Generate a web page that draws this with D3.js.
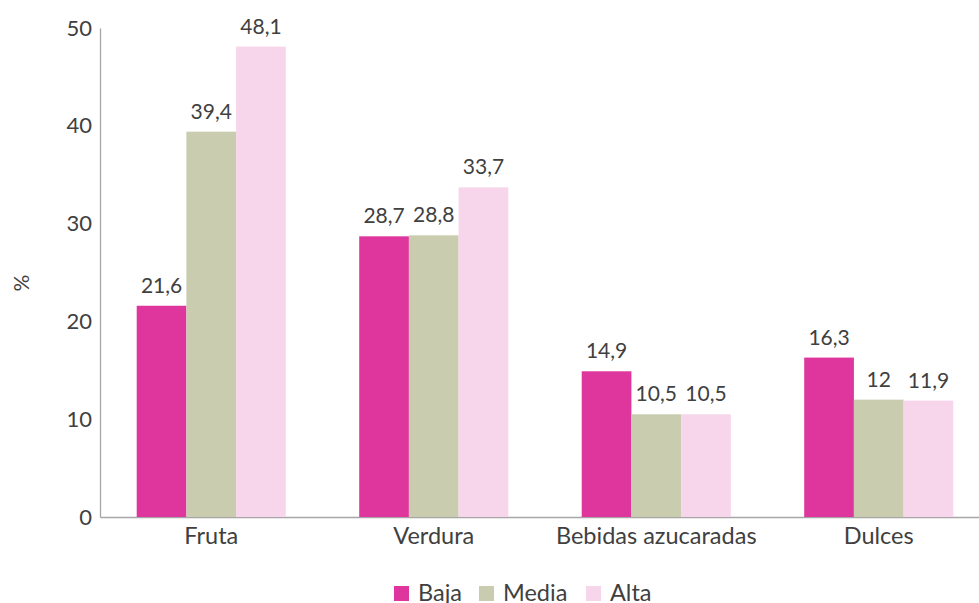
<!DOCTYPE html>
<html>
<head>
<meta charset="utf-8">
<script src="https://cdn.jsdelivr.net/npm/d3@7"></script>
<style>
	body { margin: 0; background: #fff; }
	text { font-family: Lato, 'Open Sans', sans-serif; fill: #404040; }
</style>
</head>
<body>
<svg id="chart" width="979" height="603"></svg>
<script>
var categories = [ 'Fruta', 'Verdura', 'Bebidas azucaradas', 'Dulces' ];
var seriesNames = [ 'Baja', 'Media', 'Alta' ];
var baja = [ 21.6, 28.7, 14.9, 16.3 ];
var media = [ 39.4, 28.8, 10.5, 12 ];
var alta = [ 48.1, 33.7, 10.5, 11.9 ];
var yTicks = [ 0, 10, 20, 30, 40, 50 ];
var colors = [ '#de369d', '#c9ccae', '#f7d5ea' ];

var values = [ baja, media, alta ];
var svg = d3.select( '#chart' );

// plot area
var plotLeft = 100, plotTop = 28, plotBottom = 517, plotRight = 990;

var x = d3.scaleBand()
	.domain( categories )
	.range( [ plotLeft, plotRight ] )
	.paddingInner( 0.33 )
	.paddingOuter( 0.165 );

var xs = d3.scaleBand()
	.domain( seriesNames )
	.range( [ 0, x.bandwidth() ] );

var y = d3.scaleLinear()
	.domain( [ 0, 50 ] )
	.range( [ plotBottom, plotTop ] );

// y axis
var yAxis = svg.append( 'g' )
	.attr( 'transform', 'translate(' + plotLeft + ',0)' )
	.call( d3.axisLeft( y ).tickValues( yTicks ).tickSize( 0 ).tickPadding( 8 ) );
yAxis.select( '.domain' ).attr( 'stroke', '#a6a6a6' ).attr( 'stroke-width', 1.3 );
yAxis.selectAll( 'text' ).style( 'font-size', '22px' ).attr( 'fill', '#404040' );

// x axis
var xAxis = svg.append( 'g' )
	.attr( 'transform', 'translate(0,' + plotBottom + ')' )
	.call( d3.axisBottom( x ).tickSize( 0 ).tickPadding( 10 ) );
xAxis.select( '.domain' ).attr( 'stroke', '#a6a6a6' ).attr( 'stroke-width', 1.3 );
xAxis.selectAll( 'text' ).style( 'font-size', '23.5px' ).attr( 'fill', '#404040' );

svg.append( 'text' )
	.attr( 'transform', 'translate(29,283) rotate(-90)' )
	.attr( 'text-anchor', 'middle' )
	.style( 'font-size', '21px' )
	.text( '%' );

// bars
seriesNames.forEach( function( s, i ) {
	var g = svg.append( 'g' );
	g.selectAll( 'rect' )
		.data( values[ i ] )
		.enter()
		.append( 'rect' )
		.attr( 'x', function( d, j ) { return x( categories[ j ] ) + xs( s ); } )
		.attr( 'y', function( d ) { return y( d ); } )
		.attr( 'width', xs.bandwidth() )
		.attr( 'height', function( d ) { return y( 0 ) - y( d ); } )
		.attr( 'fill', colors[ i ] );

	g.selectAll( 'text' )
		.data( values[ i ] )
		.enter()
		.append( 'text' )
		.attr( 'x', function( d, j ) { return x( categories[ j ] ) + xs( s ) + xs.bandwidth() / 2; } )
		.attr( 'y', function( d ) { return y( d ) - 13; } )
		.attr( 'text-anchor', 'middle' )
		.style( 'font-size', '21px' )
		.text( function( d ) { return String( d ).replace( '.', ',' ); } );
} );

// legend
var legendX = [ 394, 479, 586 ];
var legend = svg.append( 'g' );
seriesNames.forEach( function( s, i ) {
	legend.append( 'rect' )
		.attr( 'x', legendX[ i ] )
		.attr( 'y', 586 )
		.attr( 'width', 15 )
		.attr( 'height', 15 )
		.attr( 'fill', colors[ i ] );
	legend.append( 'text' )
		.attr( 'x', legendX[ i ] + 24 )
		.attr( 'y', 601 )
		.style( 'font-size', '23.5px' )
		.text( s );
} );
</script>
</body>
</html>
